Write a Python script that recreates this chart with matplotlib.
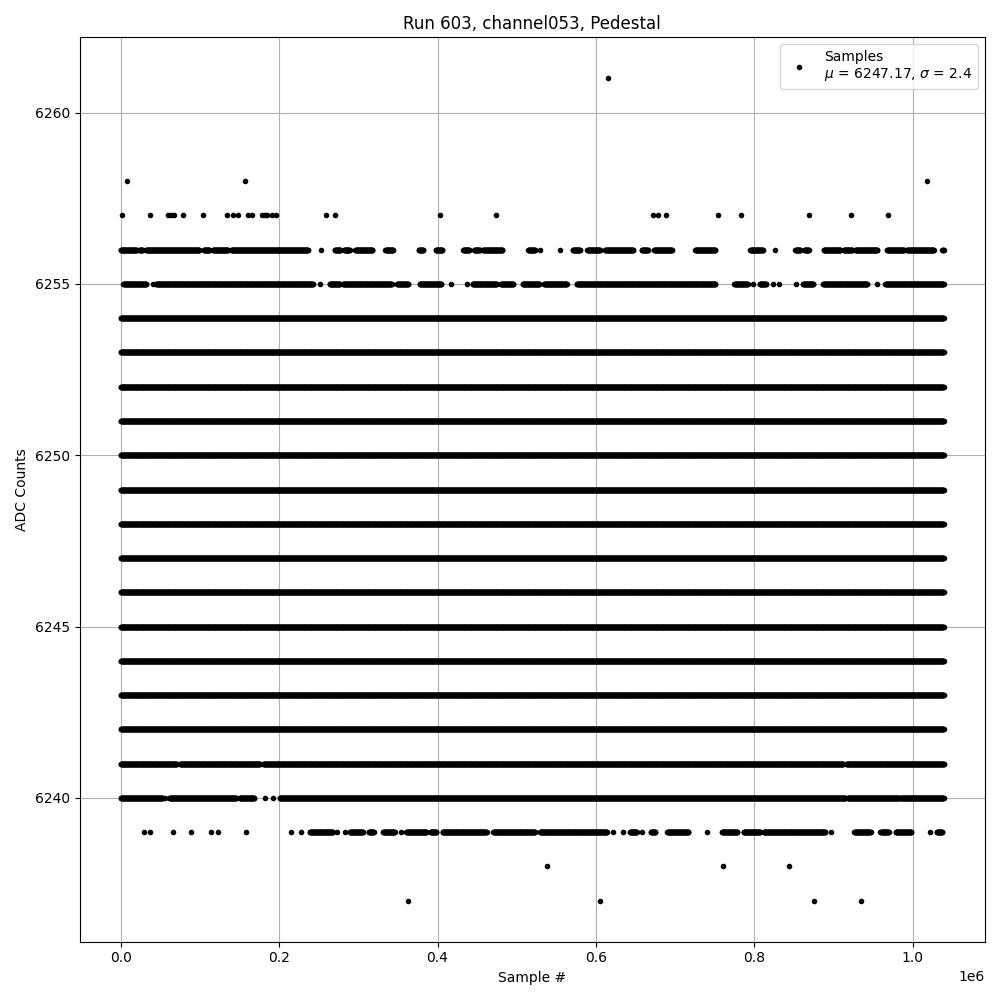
import numpy as np
import matplotlib
matplotlib.use("Agg")
import matplotlib.pyplot as plt

# sample positions, in thousands of samples.
# each row is a list of (start, end) runs; a lone point has start == end
n_samples_k = 1039
full_levels = [6242, 6243, 6244, 6245, 6246, 6247, 6248, 6249, 6250, 6251, 6252, 6253, 6254]

row_6261 = [(615.7, 615.7)]
row_6258 = [(7.6, 7.6), (156.8, 156.8), (1017.6, 1017.6)]
row_6257 = [(1.3, 1.3), (37.5, 37.5), (59.4, 59.4), (63.7, 63.7), (67.9, 67.9), (79.3, 79.3),
            (103.7, 103.7), (133.6, 133.6), (141.6, 141.6), (147.9, 147.9), (160.6, 160.6),
            (166.1, 166.1), (178.3, 178.3), (182.6, 182.6), (185.1, 185.1), (190.9, 190.9),
            (196.5, 196.5), (259.2, 259.2), (270.5, 270.5), (403.3, 403.3), (474.1, 474.1),
            (671.8, 671.8), (678.9, 678.9), (688.6, 688.6), (754.7, 754.7), (782.5, 782.5),
            (868.5, 868.5), (921.6, 921.6), (968.4, 968.4)]
row_6256 = [(0, 20.2), (23.6, 27.8), (32.1, 99.5), (104.9, 112.1), (116.3, 135.3), (139.6, 236.4),
            (252.5, 252.5), (270.2, 277.4), (281.9, 289.1), (296.3, 317.8), (334.3, 343.9),
            (376.4, 381.8), (397.8, 406.3), (432.4, 440), (446.3, 453.5), (457.6, 482.2),
            (514.5, 523), (529.7, 529.7), (555, 555), (570.7, 579.9), (589.1, 605.2),
            (611.5, 647.3), (657.9, 665.5), (673.4, 695.8), (725.3, 750.6), (794.8, 810.9),
            (825.5, 825.5), (851.7, 858), (863.1, 868.5), (887.5, 908.6), (912.8, 923.4),
            (927.6, 955), (967.6, 988.6), (992.9, 1026.5), (1037.2, 1039)]
row_6255 = [(3.4, 32.1), (40.5, 40.5), (44.8, 242.7), (251.2, 251.2), (263.8, 276.5),
            (280.3, 341.8), (348.9, 362.8), (377.6, 405), (416.4, 416.4), (436.8, 436.8),
            (444.2, 474.6), (479.6, 495.6), (507.4, 528.4), (534.4, 563.1), (575.7, 750.6),
            (774.6, 791.4), (798.2, 798.2), (806.6, 815), (823, 823), (830.6, 830.6),
            (853, 853), (861.4, 874.1), (886.7, 942.3), (955, 955), (965.5, 1039)]
row_6241 = [(0, 71), (75, 176), (180, 912), (916, 1039)]
row_6240 = [(0, 53), (56.5, 56.5), (61.6, 145.9), (150, 169), (182.5, 182.5), (192, 192),
            (200.6, 914.9), (917.8, 983.5), (985.3, 1039)]
row_6239 = [(30, 30), (37.5, 37.5), (65.7, 65.7), (88.5, 88.5), (113.4, 113.4), (122.6, 122.6),
            (157.6, 157.6), (214.5, 214.5), (227.6, 227.6), (238.6, 268), (273, 273),
            (283.7, 283.7), (289.1, 305.9), (313.1, 319.5), (331.2, 346), (354.5, 354.5),
            (360.8, 386.1), (391.1, 398.7), (406.3, 461.9), (470.3, 523), (529.3, 613.6),
            (622, 622), (634.6, 634.6), (643.1, 651.6), (658.6, 658.6), (669.3, 674.7),
            (690, 716.8), (740.1, 740.1), (759, 778.7), (786.3, 807.4), (811.6, 889.6),
            (896.8, 896.8), (926.3, 946.5), (959.1, 969.6), (978.5, 997.9), (1021.5, 1021.5),
            (1030, 1037.1)]
row_6238 = [(538.6, 538.6), (761, 761), (843.2, 843.2)]
row_6237 = [(362.8, 362.8), (605.6, 605.6), (874.8, 874.8), (934.2, 934.2)]

mu = 6247.17
sigma = 2.4


def runs_to_points(runs, level, step=0.4):
    xs = []
    for a, b in runs:
        xs.append(np.arange(a, b + step / 2, step))
    xs = np.concatenate(xs) * 1000
    return xs, np.full(len(xs), level)


rows = {6261: row_6261, 6258: row_6258, 6257: row_6257, 6256: row_6256, 6255: row_6255,
        6241: row_6241, 6240: row_6240, 6239: row_6239, 6238: row_6238, 6237: row_6237}
for lvl in full_levels:
    rows[lvl] = [(0, n_samples_k)]

all_x, all_y = [], []
for lvl, runs in rows.items():
    x, y = runs_to_points(runs, lvl)
    all_x.append(x)
    all_y.append(y)
all_x = np.concatenate(all_x)
all_y = np.concatenate(all_y)

fig = plt.figure(figsize=(10, 10), dpi=100)
plt.plot(all_x, all_y, '.', color='black',
         label='Samples\n$\\mu$ = %.2f, $\\sigma$ = %.1f' % (mu, sigma))
plt.title('Run 603, channel053, Pedestal')
plt.xlabel('Sample #')
plt.ylabel('ADC Counts')
plt.grid(True)
plt.legend(loc='upper right')
plt.tight_layout()
plt.savefig('out.png')
